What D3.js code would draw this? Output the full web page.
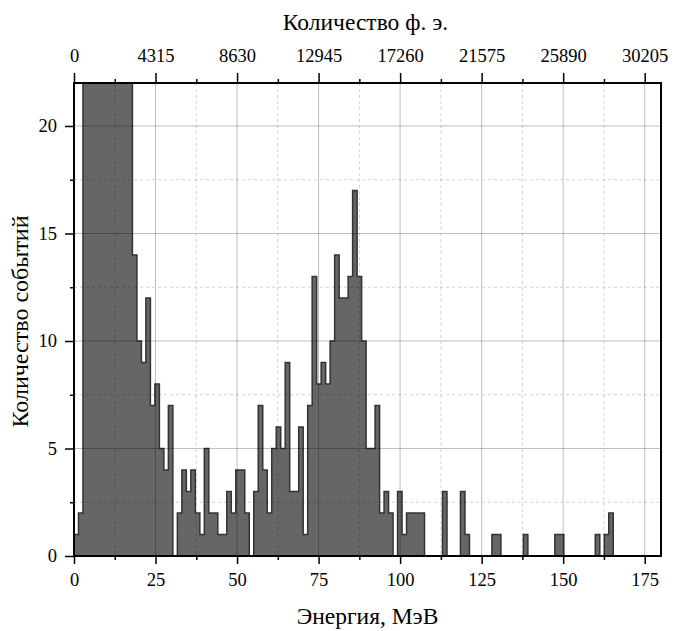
<!DOCTYPE html>
<html>
<head>
<meta charset="utf-8">
<script src="https://cdn.jsdelivr.net/npm/d3@7"></script>
<style>
  body { margin: 0; background: #fff; }
</style>
</head>
<body>
<div id="chart"></div>
<script>
// histogram: bin width in MeV, counts per bin starting at 0 MeV
const binWidth = 1.378;
const counts = [
  1, 2, 38, 46, 50, 47, 44, 40, 36, 33, 29, 26, 24,
  14, 10, 9, 12, 7, 8, 5, 4, 7, 0,
  2, 4, 3, 4, 2, 1, 5, 2, 2, 1, 1, 3, 2, 4, 4, 2, 0,
  3, 7, 4, 2, 5, 6, 5, 9, 3, 3, 6, 1, 7,
  13, 8, 9, 8, 10, 14, 12, 12, 13, 17, 13, 10, 5, 5, 7,
  2, 3, 2, 0, 3, 1, 2, 2, 2, 2,
  0, 0, 0, 0, 3, 0, 0, 0, 3, 1,
  0, 0, 0, 0, 0, 1, 1, 0, 0, 0, 0, 0, 1,
  0, 0, 0, 0, 0, 0, 1, 1, 0, 0, 0, 0, 0, 0, 0, 1, 0, 1, 2
];
const xTicks = [0, 25, 50, 75, 100, 125, 150, 175];
const yTicks = [0, 5, 10, 15, 20];
const peTicks = [0, 4315, 8630, 12945, 17260, 21575, 25890, 30205];
const pePerMeV = 4315 / 25;

const FONT = "'Liberation Serif', 'Times New Roman', serif";
const W = 673, H = 631;
const margin = {top: 83, right: 12, bottom: 75, left: 74};
const width = W - margin.left - margin.right;
const height = H - margin.top - margin.bottom;

const svg = d3.select("#chart").append("svg")
    .attr("width", W)
    .attr("height", H);
const g = svg.append("g")
    .attr("transform", "translate(" + margin.left + "," + margin.top + ")");

const x = d3.scaleLinear().domain([0, 180]).range([0, width]);
const y = d3.scaleLinear().domain([0, 22]).range([height, 0]);
const xTop = d3.scaleLinear().domain([0, 180 * pePerMeV]).range([0, width]);

g.append("clipPath").attr("id", "clip")
  .append("rect").attr("width", width).attr("height", height);

// histogram outline as one step path
const pts = [[0, 0]];
counts.forEach(function (c, i) {
    pts.push([i * binWidth, c]);
    pts.push([(i + 1) * binWidth, c]);
});
pts.push([counts.length * binWidth, 0]);
const line = d3.line().x(d => x(d[0])).y(d => y(d[1]));

g.append("path")
    .attr("clip-path", "url(#clip)")
    .attr("d", line(pts))
    .attr("fill", "#666666")
    .attr("stroke", "#333333")
    .attr("stroke-width", 1.5)
    .attr("stroke-linejoin", "miter");

// grid on top of bars
const minorX = d3.range(12.5, 180, 25);
const minorY = d3.range(2.5, 22, 5);
const grid = g.append("g").attr("clip-path", "url(#clip)");
grid.selectAll(".gxm").data(minorX).join("line")
    .attr("x1", d => x(d)).attr("x2", d => x(d))
    .attr("y1", 0).attr("y2", height)
    .attr("stroke", "rgba(0,0,0,0.18)").attr("stroke-dasharray", "3,3");
grid.selectAll(".gym").data(minorY).join("line")
    .attr("x1", 0).attr("x2", width)
    .attr("y1", d => y(d)).attr("y2", d => y(d))
    .attr("stroke", "rgba(0,0,0,0.18)").attr("stroke-dasharray", "3,3");
grid.selectAll(".gx").data(xTicks.slice(1)).join("line")
    .attr("x1", d => x(d)).attr("x2", d => x(d))
    .attr("y1", 0).attr("y2", height)
    .attr("stroke", "rgba(0,0,0,0.25)");
grid.selectAll(".gy").data(yTicks.slice(1)).join("line")
    .attr("x1", 0).attr("x2", width)
    .attr("y1", d => y(d)).attr("y2", d => y(d))
    .attr("stroke", "rgba(0,0,0,0.25)");

// axes
function styleAxis(sel) {
    sel.attr("font-family", FONT).attr("font-size", 18.5);
    sel.selectAll("text")
        .style("font-family", FONT)
        .style("font-size", "18.5px")
        .attr("fill", "#000");
    sel.selectAll("line").attr("stroke", "#000").attr("stroke-width", 1.5);
    sel.select(".domain").remove();
}

g.append("g")
    .attr("transform", "translate(0," + height + ")")
    .call(d3.axisBottom(x).tickValues(minorX).tickSize(4).tickFormat(""))
    .call(styleAxis);
g.append("g")
    .attr("transform", "translate(0," + height + ")")
    .call(d3.axisBottom(x).tickValues(xTicks).tickSize(8).tickPadding(9).tickFormat(d3.format("d")))
    .call(styleAxis);

g.append("g")
    .call(d3.axisLeft(y).tickValues(minorY).tickSize(4).tickFormat(""))
    .call(styleAxis);
g.append("g")
    .call(d3.axisLeft(y).tickValues(yTicks).tickSize(9).tickPadding(8).tickFormat(d3.format("d")))
    .call(styleAxis);

g.append("g")
    .call(d3.axisTop(xTop).tickValues(peTicks.map(d => d + 4315 / 2).filter(d => d < 180 * pePerMeV)).tickSize(4).tickFormat(""))
    .call(styleAxis);
g.append("g")
    .call(d3.axisTop(xTop).tickValues(peTicks).tickSize(10).tickPadding(11).tickFormat(d3.format("d")))
    .call(styleAxis);

// frame
g.append("rect")
    .attr("width", width).attr("height", height)
    .attr("fill", "none").attr("stroke", "#000").attr("stroke-width", 2);

// titles
svg.append("text")
    .attr("x", margin.left + width / 2).attr("y", 624)
    .attr("text-anchor", "middle")
    .style("font-family", FONT).style("font-size", "23.5px")
    .text("Энергия, МэВ");
svg.append("text")
    .attr("x", margin.left + width / 2 - 2).attr("y", 30)
    .attr("text-anchor", "middle")
    .style("font-family", FONT).style("font-size", "23.5px")
    .text("Количество ф. э.");
svg.append("text")
    .attr("transform", "translate(28," + (margin.top + height / 2 + 2) + ") rotate(-90)")
    .attr("text-anchor", "middle")
    .style("font-family", FONT).style("font-size", "24px")
    .text("Количество событий");
</script>
</body>
</html>
